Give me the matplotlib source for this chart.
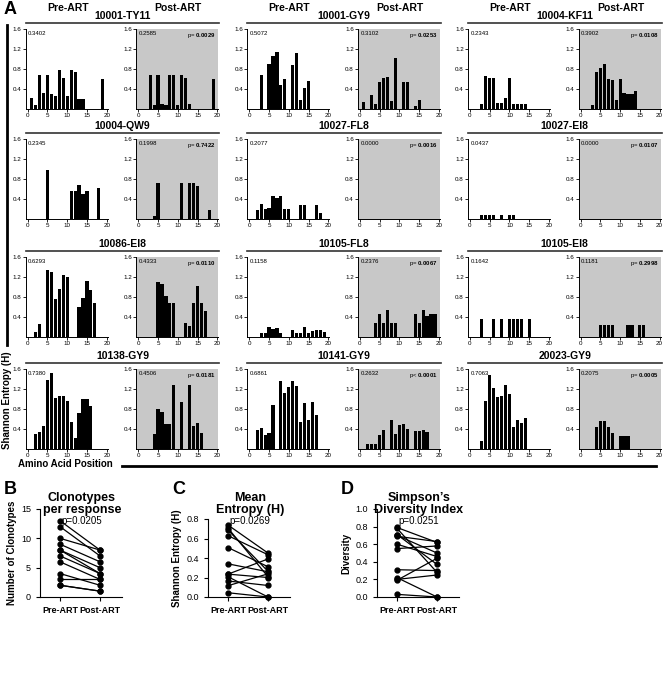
import numpy as np
import matplotlib.pyplot as plt
from matplotlib.lines import Line2D

plt.rcParams['font.family'] = ['Liberation Sans', 'DejaVu Sans']
plt.rcParams['mathtext.fontset'] = 'custom'
plt.rcParams['mathtext.rm'] = 'Liberation Sans'
plt.rcParams['mathtext.bf'] = 'Liberation Sans:bold'

W, H = 664, 678

# Panel A: entropy per amino acid position, pre and post ART
epitopes = ["10001-TY11", "10001-GY9", "10004-KF11",
            "10004-QW9", "10027-FL8", "10027-EI8",
            "10086-EI8", "10105-FL8", "10105-EI8",
            "10138-GY9", "10141-GY9", "20023-GY9"]

pre_pos = [
    [1, 2, 3, 4, 5, 6, 7, 8, 9, 10, 11, 12, 13, 14, 19],
    [3, 5, 6, 7, 8, 9, 11, 12, 13, 14, 15],
    [3, 4, 5, 6, 7, 8, 9, 10, 11, 12, 13, 14],
    [5, 11, 12, 13, 14, 15, 18],
    [2, 3, 4, 5, 6, 7, 8, 9, 10, 13, 14, 17, 18],
    [3, 4, 5, 6, 8, 10, 11],
    [2, 3, 5, 6, 7, 8, 9, 10, 13, 14, 15, 16, 17],
    [3, 4, 5, 6, 7, 8, 11, 12, 13, 14, 15, 16, 17, 18, 19],
    [3, 6, 8, 10, 11, 12, 13, 15],
    [2, 3, 4, 5, 6, 7, 8, 9, 10, 11, 12, 13, 14, 15, 16],
    [2, 3, 4, 5, 6, 8, 9, 10, 11, 12, 13, 14, 15, 16, 17],
    [3, 4, 5, 6, 7, 8, 9, 10, 11, 12, 13, 14],
]
pre_h = [
    [0.22, 0.08, 0.69, 0.33, 0.69, 0.30, 0.26, 0.79, 0.63, 0.26, 0.78, 0.74, 0.21, 0.21, 0.61],
    [0.69, 0.91, 1.07, 1.14, 0.48, 0.61, 0.88, 1.13, 0.19, 0.43, 0.57],
    [0.10, 0.66, 0.63, 0.63, 0.12, 0.12, 0.22, 0.63, 0.10, 0.10, 0.10, 0.10],
    [0.98, 0.56, 0.56, 0.68, 0.49, 0.56, 0.62],
    [0.18, 0.30, 0.20, 0.22, 0.45, 0.42, 0.45, 0.20, 0.20, 0.27, 0.27, 0.27, 0.12],
    [0.07, 0.07, 0.07, 0.07, 0.07, 0.07, 0.07],
    [0.10, 0.27, 1.35, 1.31, 0.76, 0.97, 1.25, 1.21, 0.60, 0.79, 1.12, 0.95, 0.69],
    [0.08, 0.08, 0.20, 0.17, 0.19, 0.08, 0.15, 0.08, 0.08, 0.20, 0.08, 0.13, 0.14, 0.14, 0.10],
    [0.37, 0.37, 0.37, 0.37, 0.37, 0.37, 0.37, 0.37],
    [0.31, 0.35, 0.46, 1.39, 1.53, 1.03, 1.06, 1.07, 0.96, 0.54, 0.22, 0.72, 1.01, 1.00, 0.86],
    [0.39, 0.42, 0.29, 0.32, 0.89, 1.36, 1.12, 1.25, 1.37, 1.26, 0.54, 0.93, 0.59, 0.95, 0.68],
    [0.16, 0.97, 1.49, 1.23, 1.05, 1.06, 1.28, 1.10, 0.45, 0.59, 0.53, 0.63],
]
post_pos = [
    [3, 4, 5, 6, 7, 8, 9, 10, 11, 12, 13, 19],
    [1, 3, 4, 5, 6, 7, 8, 9, 11, 12, 14, 15],
    [3, 4, 5, 6, 7, 8, 9, 10, 11, 12, 13, 14],
    [4, 5, 11, 13, 14, 15, 18],
    [],
    [],
    [5, 6, 7, 8, 9, 12, 13, 14, 15, 16, 17],
    [4, 5, 6, 7, 8, 9, 14, 15, 16, 17, 18, 19],
    [5, 6, 7, 8, 12, 13, 15, 16],
    [4, 5, 6, 7, 8, 9, 11, 13, 14, 15, 16],
    [2, 3, 4, 5, 6, 8, 9, 10, 11, 12, 14, 15, 16, 17],
    [4, 5, 6, 7, 8, 10, 11, 12],
]
post_h = [
    [0.69, 0.08, 0.69, 0.10, 0.08, 0.69, 0.69, 0.08, 0.69, 0.62, 0.10, 0.61],
    [0.15, 0.28, 0.11, 0.55, 0.62, 0.64, 0.17, 1.03, 0.55, 0.54, 0.06, 0.19],
    [0.09, 0.74, 0.82, 0.90, 0.61, 0.58, 0.18, 0.60, 0.33, 0.30, 0.30, 0.37],
    [0.05, 0.72, 0.72, 0.72, 0.72, 0.66, 0.17],
    [],
    [],
    [1.10, 1.07, 0.83, 0.68, 0.68, 0.28, 0.22, 0.69, 1.02, 0.69, 0.53],
    [0.28, 0.47, 0.28, 0.55, 0.28, 0.28, 0.47, 0.28, 0.55, 0.42, 0.47, 0.47],
    [0.25, 0.25, 0.25, 0.25, 0.25, 0.25, 0.25, 0.25],
    [0.31, 0.80, 0.75, 0.50, 0.50, 1.28, 0.95, 1.28, 0.46, 0.53, 0.32],
    [0.10, 0.10, 0.10, 0.29, 0.39, 0.59, 0.31, 0.49, 0.50, 0.41, 0.36, 0.36, 0.38, 0.35],
    [0.45, 0.56, 0.56, 0.45, 0.32, 0.26, 0.26, 0.26],
]
pre_mean = [0.3402, 0.5072, 0.2343, 0.2345, 0.2077, 0.0437,
            0.6293, 0.1158, 0.1642, 0.7380, 0.6861, 0.7063]
post_mean = [0.2585, 0.3102, 0.3902, 0.1998, 0.0000, 0.0000,
             0.4333, 0.2376, 0.1181, 0.4506, 0.2632, 0.2075]
p_text = ["= 0.0029", "= 0.0253", "= 0.0108", "= 0.7422", "= 0.0016", "= 0.0107",
          "= 0.0110", "= 0.0067", "= 0.2998", "= 0.0181", "< 0.0001", "= 0.0005"]

# Panels B-D: paired pre/post values per response
clono_pre = [13, 12, 10, 9, 8, 8, 7, 6, 4, 3, 2, 2]
clono_post = [8, 7, 8, 6, 5, 4, 4, 3, 2, 3, 1, 1]
simpson_pre = [0.60, 0.70, 0.55, 0.31, 0.22, 0.03, 0.69, 0.19, 0.20, 0.79, 0.71, 0.78]
simpson_post = [0.46, 0.50, 0.58, 0.30, 0.00, 0.00, 0.63, 0.44, 0.25, 0.62, 0.37, 0.28]

fig = plt.figure(figsize=(W / 100, H / 100), dpi=100)


def rect(x0, y0, w, h):
    return [x0 / W, 1 - (y0 + h) / H, w / W, h / H]


def fig_xy(x, y):
    return x / W, 1 - y / H


col_x = [27.7, 249.3, 470.0]   # pixel of position 0, pre panels
post_dx = 110.6
row_top = [29, 139, 257, 369]
u = 3.95   # pixels per amino acid
ph = 80    # panel height

for i, name in enumerate(epitopes):
    r, c = divmod(i, 3)
    data = [(pre_pos[i], pre_h[i], pre_mean[i]), (post_pos[i], post_h[i], post_mean[i])]
    for k, (pos, hts, m) in enumerate(data):
        x0 = col_x[c] + k * post_dx
        ax = fig.add_axes(rect(x0 - 0.5 * u, row_top[r], 20.8 * u, ph))
        ax.bar(pos, hts, width=0.8, color='black')
        ax.set_xlim(-0.5, 20.3)
        ax.set_ylim(0, 1.6)
        ax.set_xticks([0, 5, 10, 15, 20])
        ax.set_yticks([0.4, 0.8, 1.2, 1.6])
        ax.set_yticklabels(['0.4', '0.8', '1.2', '1.6'])
        ax.tick_params(labelsize=4.5, length=2, width=0.6, pad=1)
        for s in ['top', 'right']:
            ax.spines[s].set_visible(False)
        for s in ['left', 'bottom']:
            ax.spines[s].set_linewidth(0.7)
        ax.text(0.03, 0.98, f"{m:.4f}", transform=ax.transAxes,
                fontsize=4.3, va='top', ha='left')
        if k == 1:
            ax.set_facecolor('#c8c8c8')
            ax.text(0.97, 0.98, "p" + p_text[i][0] + r" $\mathbf{" + p_text[i][2:] + "}$",
                    transform=ax.transAxes, fontsize=4.3, va='top', ha='right')
        if r == 0:
            fig.text(*fig_xy(x0 + 40, 8), "Pre-ART" if k == 0 else "Post-ART",
                     ha='center', va='center', fontsize=7.5, fontweight='bold')
    # epitope title and line
    xa = col_x[c] - 2
    xb = col_x[c] + post_dx + 81
    fig.text(*fig_xy((xa + xb) / 2, row_top[r] - 13), name, ha='center', va='center',
             fontsize=7.5, fontweight='bold')
    fx, fy = zip(fig_xy(xa, row_top[r] - 6), fig_xy(xb, row_top[r] - 6))
    fig.add_artist(Line2D(fx, fy, color='#333333', lw=1.2))

# Shared axis labels for A
fig.text(*fig_xy(4, 10), "A", fontsize=13, fontweight='bold', ha='left', va='center')
fx, fy = zip(fig_xy(7, 25), fig_xy(7, 345))
fig.add_artist(Line2D(fx, fy, color='black', lw=2))
fig.text(*fig_xy(7, 400), "Shannon Entropy (H)", rotation=90, ha='center', va='center',
         fontsize=7, fontweight='bold')
fig.text(*fig_xy(18, 464), "Amino Acid Position", ha='left', va='center',
         fontsize=7, fontweight='bold')
fx, fy = zip(fig_xy(122, 466), fig_xy(656, 466))
fig.add_artist(Line2D(fx, fy, color='black', lw=2))

# Panels B, C, D
panels = [
    ("B", 40, 509, 15, [0, 5, 10, 15], ['0', '5', '10', '15'], clono_pre, clono_post,
     "Clonotypes\nper response", "p=0.0205", "Number of Clonotypes"),
    ("C", 208, 519, 0.8, [0, 0.2, 0.4, 0.6, 0.8], ['0.0', '0.2', '0.4', '0.6', '0.8'],
     pre_mean, post_mean, "Mean\nEntropy (H)", "p=0.0269", "Shannon Entropy (H)"),
    ("D", 377, 509, 1.0, [0, 0.2, 0.4, 0.6, 0.8, 1.0],
     ['0.0', '0.2', '0.4', '0.6', '0.8', '1.0'], simpson_pre, simpson_post,
     "Simpson\u2019s\nDiversity Index", "p=0.0251", "Diversity"),
]
for lab, x0, ytop, ymax, ticks, tlabels, pre, post, title, ptxt, ylab in panels:
    ax = fig.add_axes(rect(x0, ytop, 82, 597 - ytop))
    for a, b in zip(pre, post):
        ax.plot([0, 1], [a, b], color='black', lw=0.9, marker='o', ms=3.5,
                clip_on=False)
    ax.set_xlim(-0.5, 1.55)
    ax.set_ylim(0, ymax)
    ax.set_yticks(ticks)
    ax.set_yticklabels(tlabels)
    ax.set_xticks([0, 1])
    ax.set_xticklabels(['Pre-ART', 'Post-ART'], fontweight='bold')
    ax.tick_params(labelsize=6.5, length=3, width=0.8)
    for s in ['top', 'right']:
        ax.spines[s].set_visible(False)
    ax.set_ylabel(ylab, fontsize=7, fontweight='bold', labelpad=3)
    fig.text(*fig_xy(x0 - 36, 489), lab, fontsize=13, fontweight='bold', ha='left', va='center')
    fig.text(*fig_xy(x0 + 42, 504), title, fontsize=9, fontweight='bold',
             ha='center', va='center', linespacing=1.0)
    fig.text(*fig_xy(x0 + 42, 521), ptxt, fontsize=7, ha='center', va='center')

fig.savefig('out.png', dpi=100)
